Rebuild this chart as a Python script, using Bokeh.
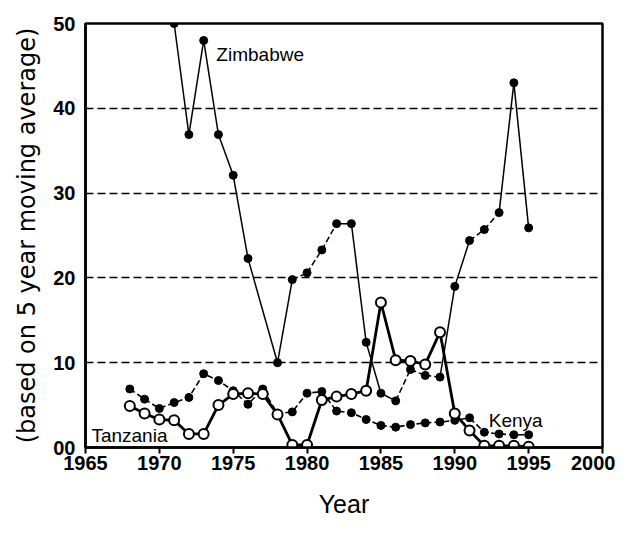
from bokeh.plotting import figure
from bokeh.models import ColumnDataSource, Label, Title, FixedTicker, Range1d
from bokeh.embed import file_html
from bokeh.resources import INLINE

# ---- data ----
zim_years = [1971, 1972, 1973, 1974, 1975, 1976, 1978, 1979, 1980, 1981, 1982, 1983,
             1984, 1985, 1986, 1987, 1988, 1989, 1990, 1991, 1992, 1993, 1994, 1995]
zim_values = [50.0, 36.9, 48.0, 36.9, 32.1, 22.3, 10.0, 19.8, 20.6, 23.3, 26.4, 26.4,
              12.4, 6.4, 5.5, 9.2, 8.5, 8.3, 19.0, 24.4, 25.7, 27.7, 43.0, 25.9]

kenya_years = list(range(1968, 1996))
kenya_values = [6.9, 5.7, 4.6, 5.3, 5.9, 8.7, 7.9, 6.7, 5.1, 6.9, 4.0, 4.2, 6.4, 6.6,
                4.3, 4.1, 3.3, 2.6, 2.4, 2.7, 2.9, 3.0, 3.2, 3.5, 1.8, 1.6, 1.5, 1.5]

tanz_years = list(range(1968, 1996))
tanz_values = [4.9, 4.0, 3.3, 3.2, 1.6, 1.6, 5.0, 6.3, 6.4, 6.3, 3.9, 0.3, 0.3, 5.6,
               6.0, 6.3, 6.7, 17.1, 10.3, 10.2, 9.8, 13.6, 4.0, 2.0, 0.2, 0.2, 0.2, 0.1]

x_ticks = [1965, 1970, 1975, 1980, 1985, 1990, 1995, 2000]
y_ticks = [0, 10, 20, 30, 40, 50]
y_tick_labels = {0: "00", 10: "10", 20: "20", 30: "30", 40: "40", 50: "50"}

# segments of the Zimbabwe line drawn dashed (style, keyed by start year)
zim_dashed_from = [1979, 1980, 1981, 1986, 1987, 1988, 1991, 1992]

SANS = "Liberation Sans"

p = figure(width=615, height=520, output_backend="svg", toolbar_location=None,
           x_range=Range1d(1965, 2000), y_range=Range1d(0, 50),
           min_border_left=83, min_border_right=13, min_border_top=23,
           min_border_bottom=71)
p.background_fill_color = "white"
p.border_fill_color = "white"
p.outline_line_color = "black"
p.outline_line_width = 2.5

# grid
p.xgrid.visible = False
p.ygrid.ticker = FixedTicker(ticks=[10, 20, 30, 40])
p.ygrid.grid_line_color = "black"
p.ygrid.grid_line_width = 1.5
p.ygrid.grid_line_dash = "8 4"

# axes
p.xaxis.ticker = FixedTicker(ticks=x_ticks)
p.yaxis.ticker = FixedTicker(ticks=y_ticks)
p.yaxis.major_label_overrides = y_tick_labels
for ax in (p.xaxis[0], p.yaxis[0]):
    ax.axis_line_color = "black"
    ax.axis_line_width = 2.5
    ax.minor_tick_line_color = None
    ax.major_label_text_font = SANS
    ax.major_label_text_font_size = "20px"
    ax.major_label_text_font_style = "bold"
    ax.major_label_text_color = "black"
    ax.axis_label_text_color = "black"
    ax.axis_label_text_font_style = "normal"
p.xaxis.major_tick_out = 6
p.xaxis.major_tick_in = 0
p.xaxis.major_tick_line_width = 2
p.xaxis.major_tick_line_color = "black"
p.xaxis.major_label_standoff = 2
p.xaxis.axis_label = "Year"
p.xaxis.axis_label_text_font = SANS
p.xaxis.axis_label_text_font_size = "25px"
p.xaxis.axis_label_standoff = 17

p.yaxis.major_tick_out = 0
p.yaxis.major_tick_in = 0
p.yaxis.major_label_standoff = 10

# y-axis title as a side title (allows shifting it slightly upward)
p.add_layout(Title(text="(based on 5 year moving average)", align="center",
                   offset=-27, text_font="DejaVu Sans", text_font_size="24px",
                   text_font_style="normal", text_color="black", standoff=20),
             "left")

# Zimbabwe: thin line, mostly solid with some dashed stretches
solid = dict(x0=[], y0=[], x1=[], y1=[])
dashed = dict(x0=[], y0=[], x1=[], y1=[])
for i in range(len(zim_years) - 1):
    d = dashed if zim_years[i] in zim_dashed_from else solid
    d["x0"].append(zim_years[i]); d["y0"].append(zim_values[i])
    d["x1"].append(zim_years[i + 1]); d["y1"].append(zim_values[i + 1])
p.segment("x0", "y0", "x1", "y1", source=ColumnDataSource(solid),
          line_color="black", line_width=1.5)
p.segment("x0", "y0", "x1", "y1", source=ColumnDataSource(dashed),
          line_color="black", line_width=1.5, line_dash="6 3")

# Kenya: dashed line with filled dots
p.line(kenya_years, kenya_values, line_color="black", line_width=1.6, line_dash="6 3")

# Tanzania: thick line with open circles
p.line(tanz_years, tanz_values, line_color="black", line_width=2.8)

p.scatter(zim_years, zim_values, size=8, marker="circle",
          fill_color="black", line_color="black")
p.scatter(kenya_years, kenya_values, size=8, marker="circle",
          fill_color="black", line_color="black")
p.scatter(tanz_years, tanz_values, size=10, marker="circle",
          fill_color="white", line_color="black", line_width=2)

# series labels
for txt, lx, ly in [("Zimbabwe", 1973.86, 46.4), ("Tanzania", 1965.4, 1.4),
                    ("Kenya", 1992.3, 3.15)]:
    p.add_layout(Label(x=lx, y=ly, text=txt, text_font=SANS,
                       text_font_size="19px", text_color="black",
                       text_baseline="alphabetic", text_align="left"))

open("out.html", "w").write(file_html(p, INLINE))
